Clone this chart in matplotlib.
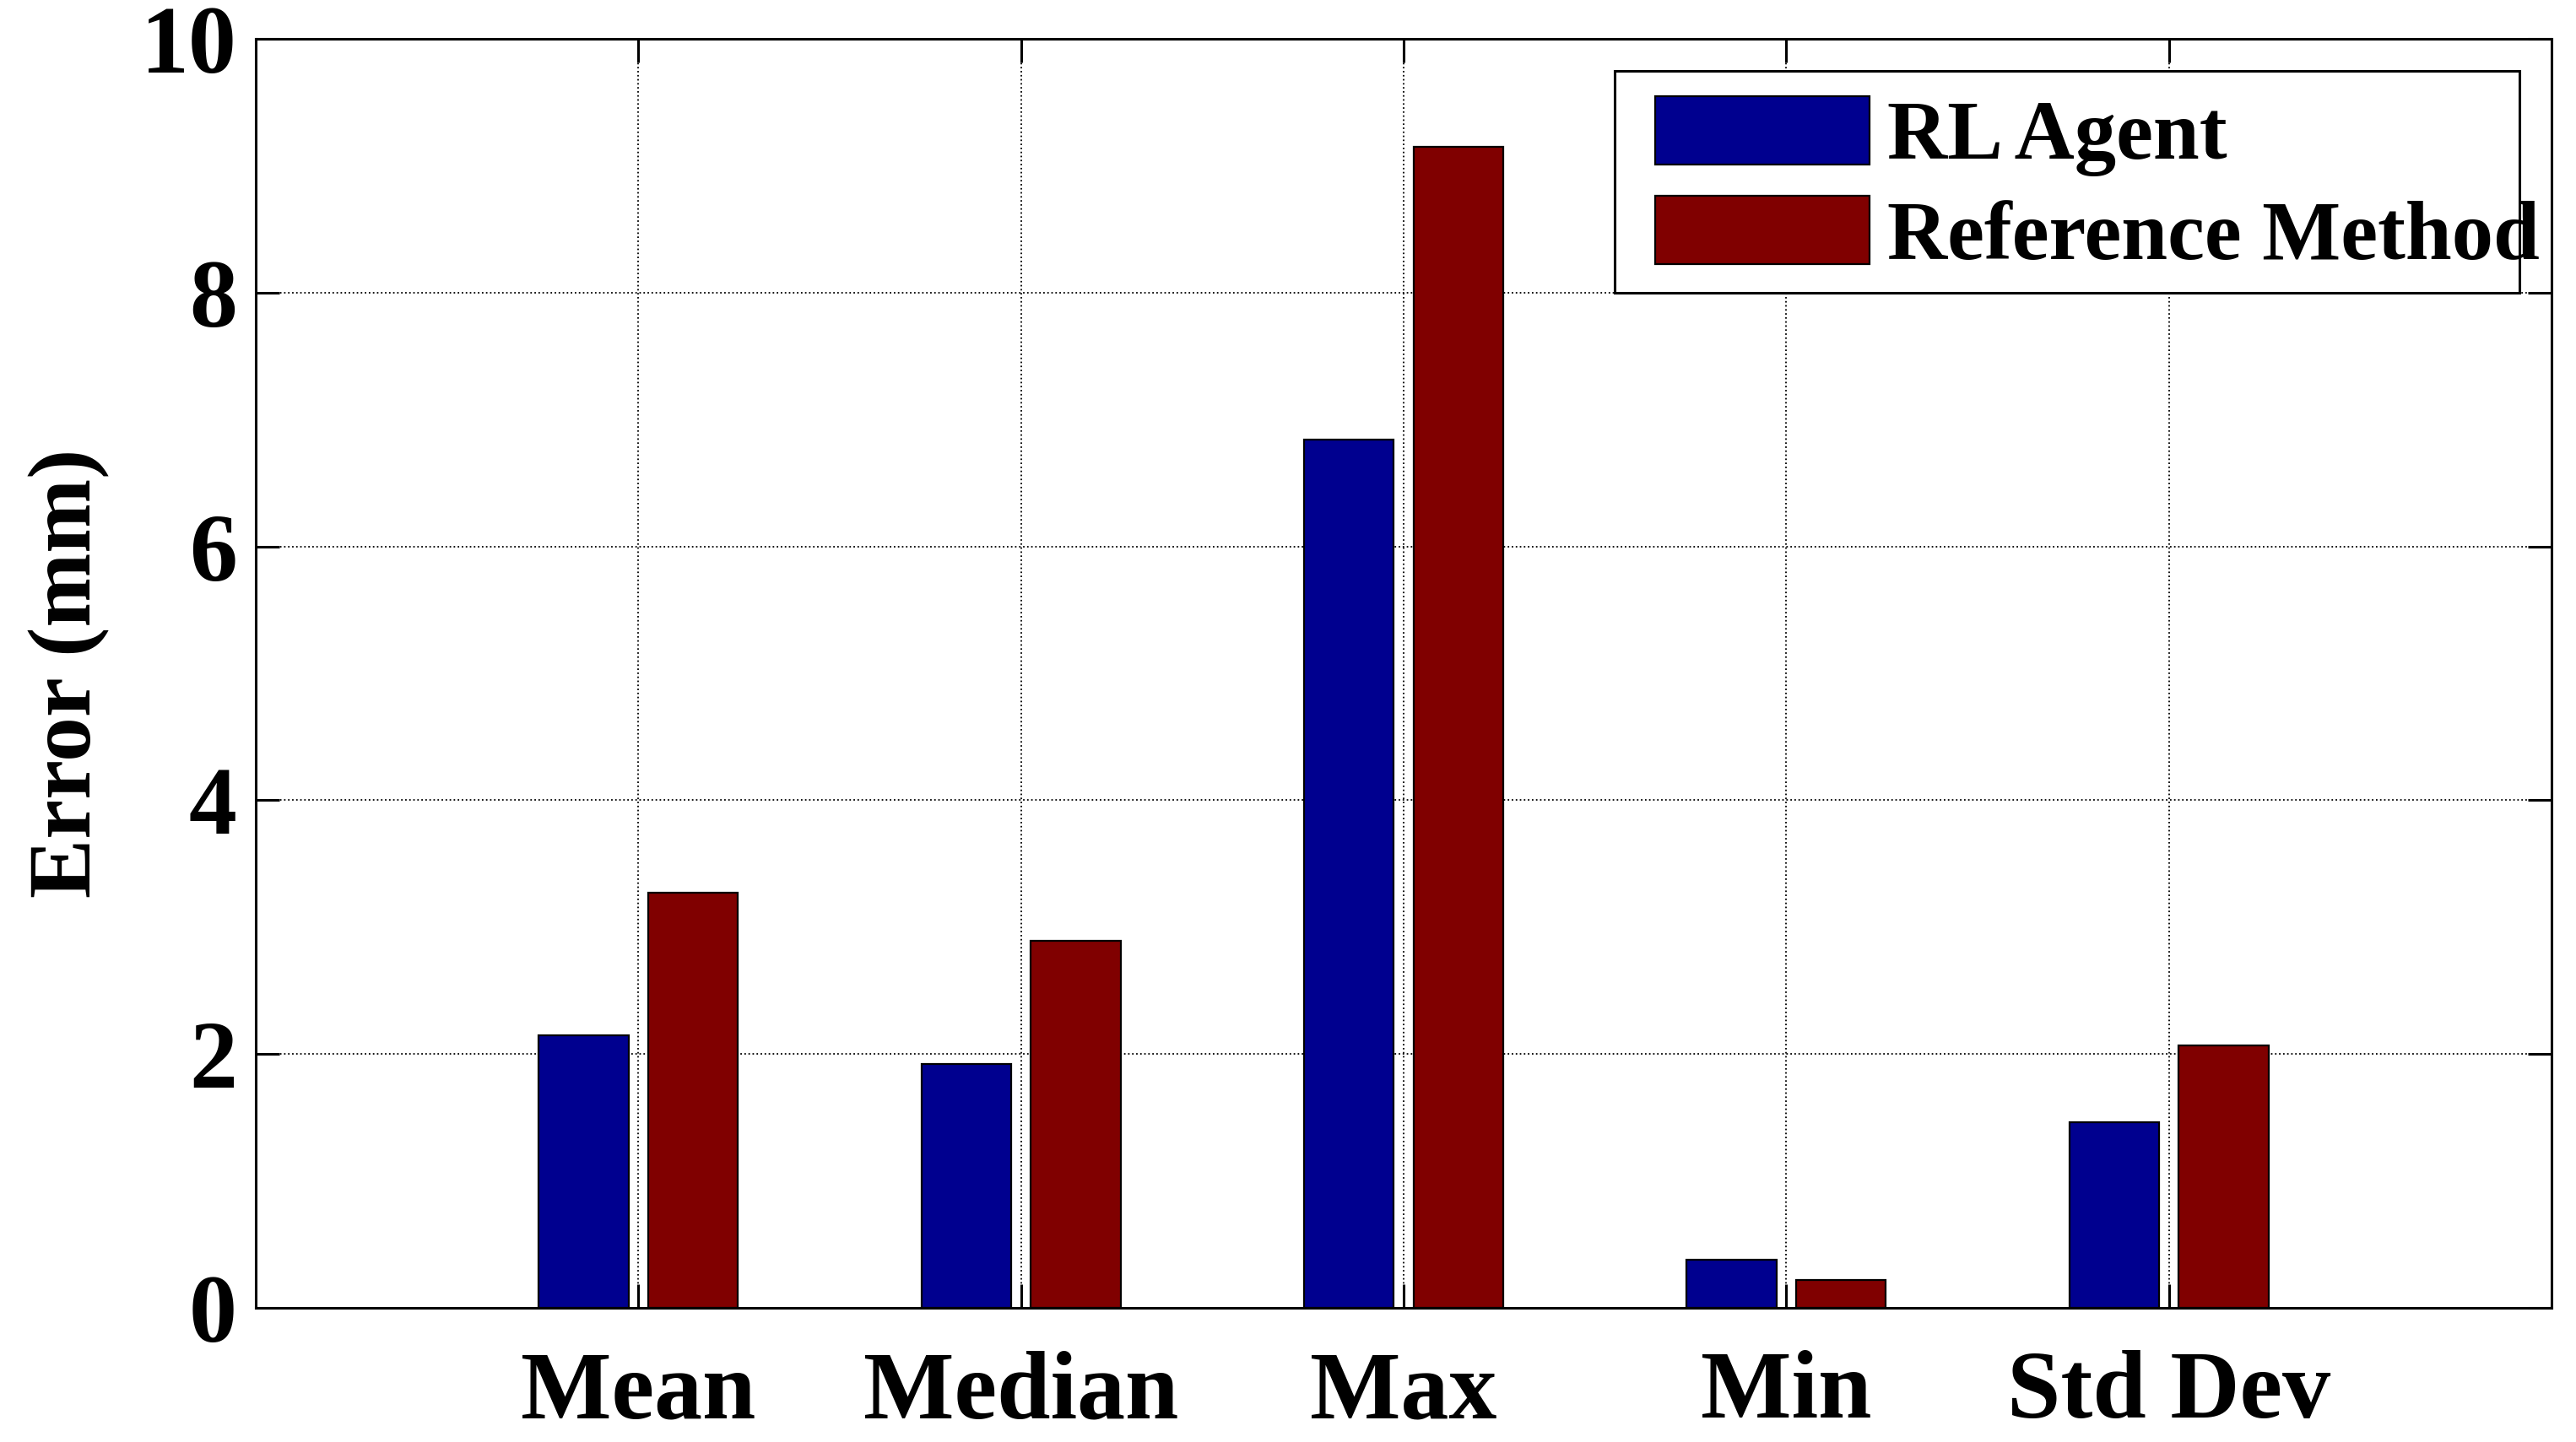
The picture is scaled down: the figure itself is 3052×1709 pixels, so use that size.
import numpy as np
import matplotlib
matplotlib.use("Agg")
import matplotlib.pyplot as plt
from matplotlib.patches import Rectangle

# error stats (mm)
categories = ["Mean", "Median", "Max", "Min", "Std Dev"]
rl_agent = [2.15, 1.92, 6.84, 0.38, 1.46]
reference_method = [3.27, 2.89, 9.15, 0.22, 2.07]
series_names = ["RL Agent", "Reference Method"]
yticks = [0, 2, 4, 6, 8, 10]

plt.rcParams['font.family'] = ['Liberation Serif', 'DejaVu Serif']
plt.rcParams['font.weight'] = 'bold'

fig = plt.figure(figsize=(30.52, 17.09), dpi=100)
ax = fig.add_axes([0.0993, 0.0930, 0.8912, 0.8801])

x = np.arange(1, len(categories) + 1)
w = 0.235
off = 0.143
ax.bar(x - off, rl_agent, w, color='#00008F', edgecolor='black', linewidth=1.6,
       label=series_names[0], zorder=3)
ax.bar(x + off, reference_method, w, color='#800000', edgecolor='black', linewidth=1.6,
       label=series_names[1], zorder=3)

ax.set_xlim(0, 6)
ax.set_ylim(0, 10)
ax.set_xticks(x)
ax.set_xticklabels(categories)
ax.set_yticks(yticks)
ax.grid(True, linestyle=':', linewidth=1.3, color='black', zorder=0)
ax.set_axisbelow(True)

ax.tick_params(axis='both', direction='in', length=20, width=2.2,
               top=True, right=True, labelsize=82)
ax.tick_params(axis='y', pad=16)
ax.tick_params(axis='x', pad=36)
for s in ax.spines.values():
    s.set_linewidth(2.2)

ax.set_ylabel("Error (mm)", fontsize=76, fontweight='bold')
ax.yaxis.set_label_coords(-0.0634, 0.5)

# legend box drawn by hand (MATLAB-style, text runs over the right edge)
ax.add_patch(Rectangle((0.592, 0.80), 0.394, 0.175, transform=ax.transAxes,
                       facecolor='white', edgecolor='black', linewidth=2.2,
                       zorder=5, clip_on=False))
leg = ax.legend(loc='upper left', bbox_to_anchor=(0.6096, 0.955), borderaxespad=0,
                borderpad=0, fontsize=71, handlelength=2.57, handleheight=0.89,
                handletextpad=0.22, labelspacing=0.23, frameon=False)
leg.set_zorder(6)

fig.savefig("out.png", dpi=100)
